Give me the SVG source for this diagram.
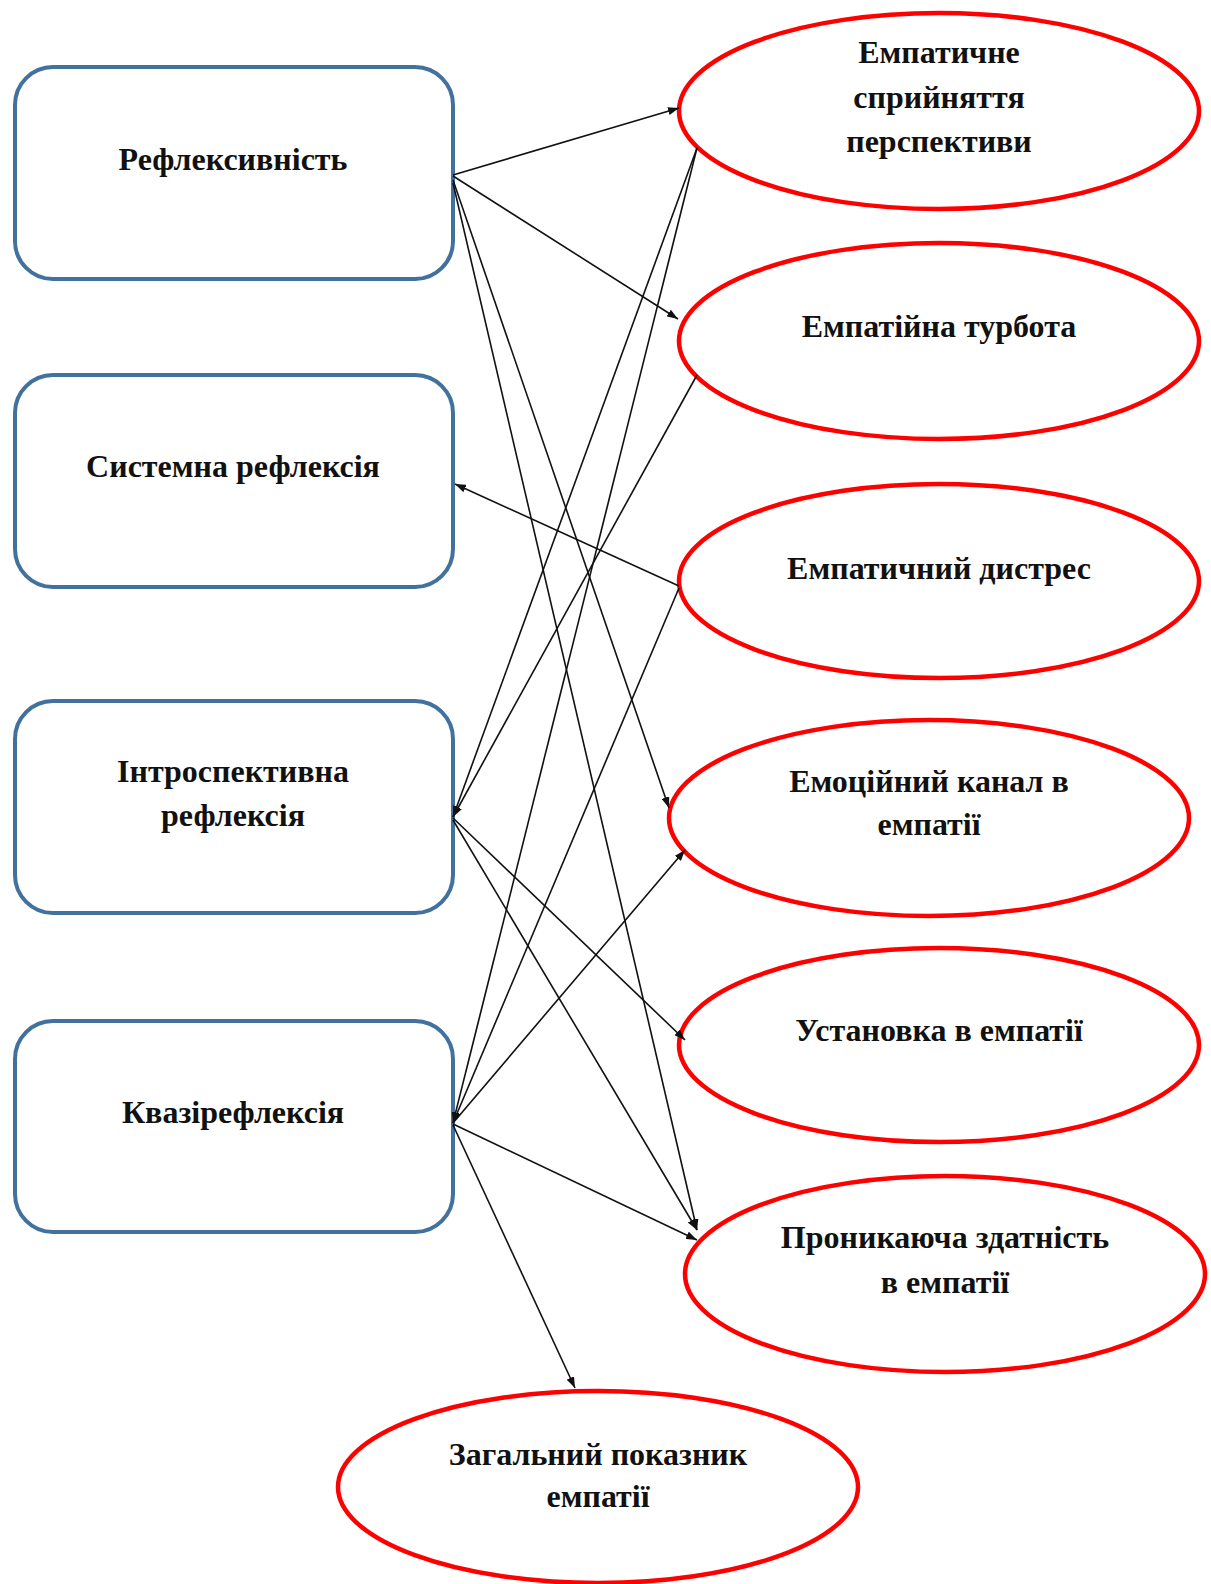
<svg xmlns="http://www.w3.org/2000/svg" width="1211" height="1584" viewBox="0 0 1211 1584">
<defs>
<style>
.box{fill:#fff;stroke:#41719C;stroke-width:4}
.ell{fill:#fff;stroke:#FF0000;stroke-width:4.5}
.t{font-family:"Liberation Serif","Times New Roman",serif;font-weight:bold;font-size:32px;fill:#111;text-anchor:middle}
.c line{stroke:#111;stroke-width:1.6;marker-end:url(#ah)}
</style>
<marker id="ah" markerUnits="userSpaceOnUse" markerWidth="12" markerHeight="8" refX="11" refY="4" orient="auto">
<path d="M0,0 L11,4 L0,8 z" fill="#111"/>
</marker>
</defs>
<rect width="1211" height="1584" fill="#fff"/>

<g id="n-reflex"><rect class="box" x="15" y="67" width="438" height="212" rx="38"/><text class="t" x="233" y="170">Рефлексивність</text></g>
<g id="n-system"><rect class="box" x="15" y="375" width="438" height="212" rx="38"/><text class="t" x="233" y="477">Системна рефлексія</text></g>
<g id="n-intro"><rect class="box" x="15" y="701" width="438" height="212" rx="38"/><text class="t" x="233" y="782">Інтроспективна</text><text class="t" x="233" y="826">рефлексія</text></g>
<g id="n-quasi"><rect class="box" x="15" y="1021" width="438" height="211" rx="38"/><text class="t" x="233" y="1123">Квазірефлексія</text></g>

<g id="e1"><ellipse class="ell" cx="939" cy="111" rx="260" ry="98"/><text class="t" x="939" y="63">Емпатичне</text><text class="t" x="939" y="108">сприйняття</text><text class="t" x="939" y="152">перспективи</text></g>
<g id="e2"><ellipse class="ell" cx="939" cy="341" rx="260" ry="98"/><text class="t" x="939" y="337">Емпатійна турбота</text></g>
<g id="e3"><ellipse class="ell" cx="939" cy="581" rx="260" ry="97"/><text class="t" x="939" y="579">Емпатичний дистрес</text></g>
<g id="e4"><ellipse class="ell" cx="929" cy="818" rx="260" ry="98"/><text class="t" x="929" y="792">Емоційний канал в</text><text class="t" x="929" y="835">емпатії</text></g>
<g id="e5"><ellipse class="ell" cx="939" cy="1045" rx="260" ry="97"/><text class="t" x="939" y="1041">Установка в емпатії</text></g>
<g id="e6"><ellipse class="ell" cx="945" cy="1274" rx="260" ry="98"/><text class="t" x="945" y="1248">Проникаюча здатність</text><text class="t" x="945" y="1293">в емпатії</text></g>
<g id="e7"><ellipse class="ell" cx="598" cy="1487" rx="260" ry="96"/><text class="t" x="598" y="1465">Загальний показник</text><text class="t" x="598" y="1507">емпатії</text></g>

<g id="connectors" class="c">
<line x1="453" y1="175" x2="679" y2="108"/>
<line x1="453" y1="176" x2="678" y2="319"/>
<line x1="453" y1="180" x2="669" y2="808"/>
<line x1="453" y1="183" x2="697" y2="1230"/>
<line x1="697" y1="148" x2="453" y2="817"/>
<line x1="697" y1="148" x2="453" y2="1123"/>
<line x1="697" y1="375" x2="453" y2="817"/>
<line x1="679" y1="586" x2="455" y2="484"/>
<line x1="679" y1="588" x2="453" y2="1123"/>
<line x1="453" y1="818" x2="685" y2="1040"/>
<line x1="453" y1="820" x2="697" y2="1230"/>
<line x1="453" y1="1123" x2="685" y2="850"/>
<line x1="453" y1="1124" x2="697" y2="1240"/>
<line x1="453" y1="1125" x2="575" y2="1388"/>
</g>
</svg>
